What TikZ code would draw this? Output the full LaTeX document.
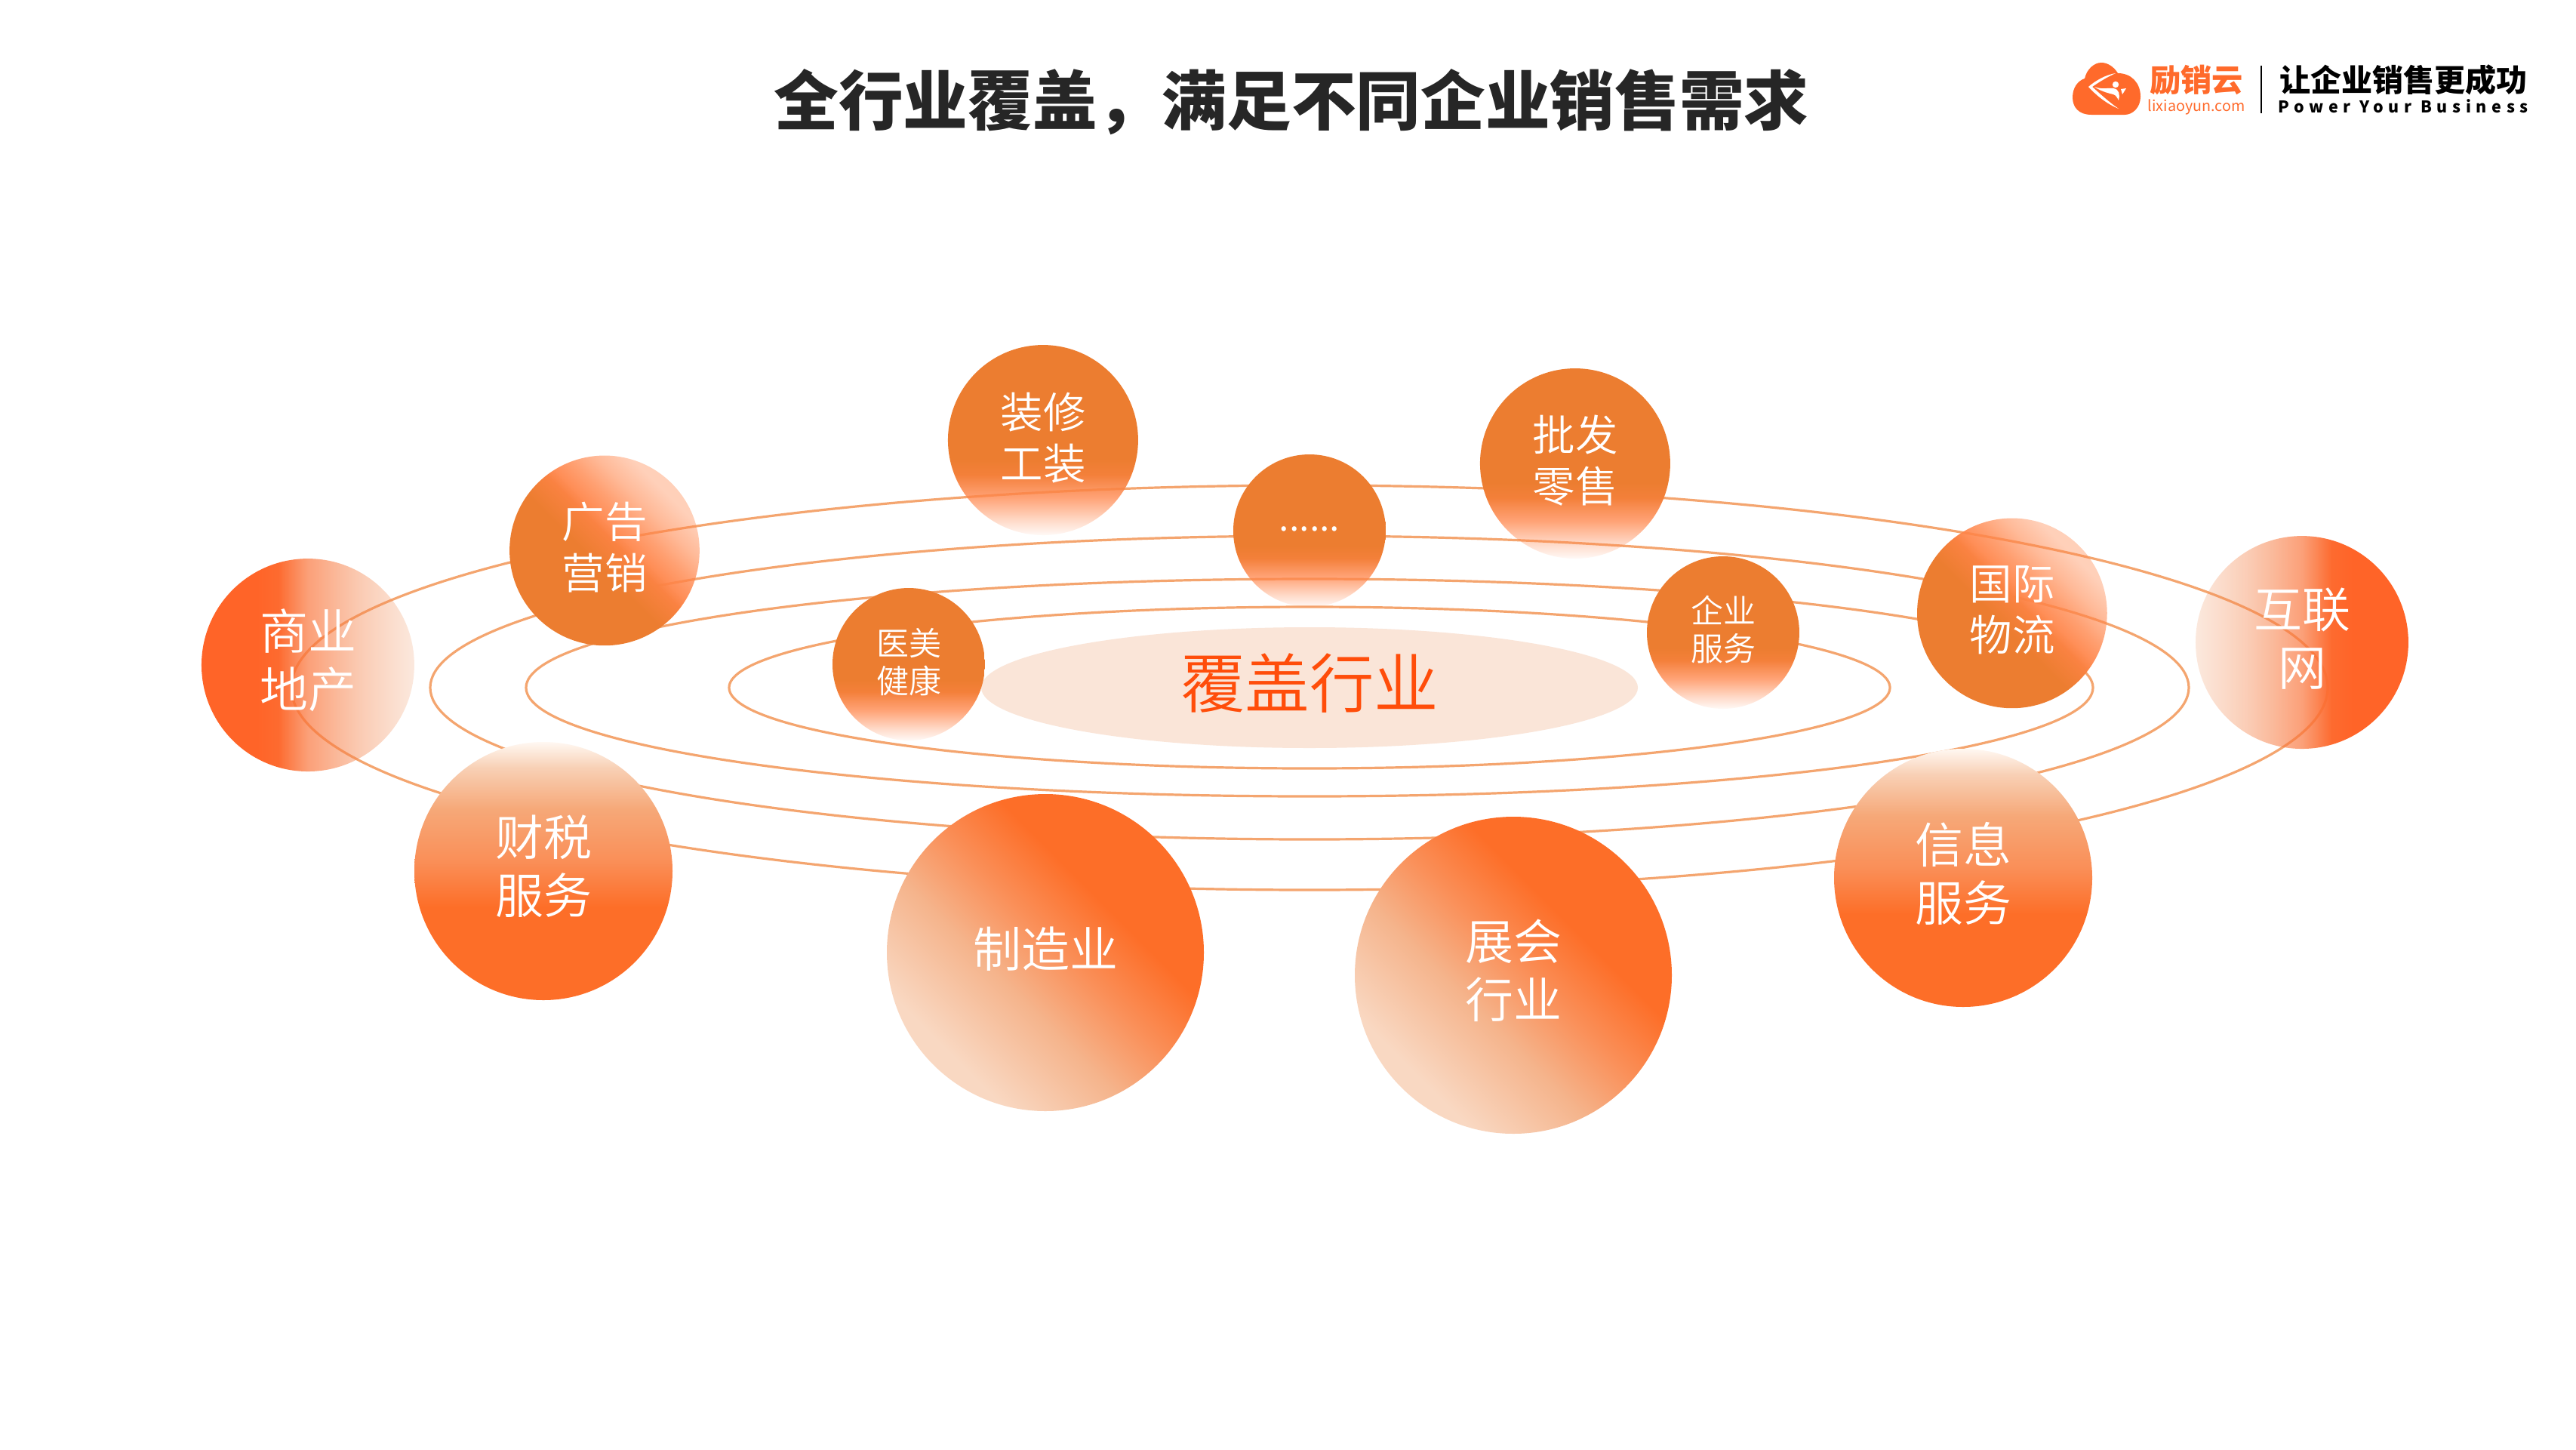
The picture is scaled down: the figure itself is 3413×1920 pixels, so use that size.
\documentclass[tikz,border=0pt]{standalone}
\usepackage{fontspec}
\setmainfont{Noto Sans CJK SC}
\newfontfamily\lightcjk{Noto Sans CJK SC}[UprightFont=* DemiLight]
\usetikzlibrary{fadings}
\definecolor{orbit}{HTML}{F4A56F}
\definecolor{brand}{HTML}{FF6A2B}
\definecolor{coretext}{HTML}{FF4D0A}
\definecolor{corefill}{HTML}{FAE5D8}
\definecolor{backA}{HTML}{EC7D30}
\definecolor{backB}{HTML}{FF8448}
\definecolor{sideA}{HTML}{FF6428}
\definecolor{sideB}{HTML}{F0935C}
\definecolor{frontA}{HTML}{FD6E28}
\definecolor{frontB}{HTML}{F6A878}
\definecolor{frontE}{HTML}{FA8F58}
\definecolor{frontF}{HTML}{F8D0B5}
\definecolor{frontC}{HTML}{FFF8F2}
\definecolor{frontD}{HTML}{F9D8C2}
\definecolor{frontG}{HTML}{F5B48C}
\pgfdeclareverticalshading{backcol}{100bp}{color(0bp)=(backB);color(35bp)=(backB);color(45bp)=(backA);color(100bp)=(backA)}
\pgfdeclareverticalshading{frontcol}{100bp}{color(0bp)=(frontA);color(43bp)=(frontA);color(52bp)=(frontE);color(62bp)=(frontB);color(70bp)=(frontF);color(75bp)=(frontC);color(100bp)=(frontC)}
\pgfdeclareverticalshading{diagcol}{100bp}{color(0bp)=(frontD);color(28bp)=(frontD);color(42bp)=(frontG);color(52bp)=(frontE);color(62bp)=(frontA);color(100bp)=(frontA)}
\pgfdeclarehorizontalshading{sidecol}{100bp}{color(0bp)=(sideA);color(38bp)=(sideA);color(75bp)=(sideB);color(100bp)=(sideB)}
\pgfdeclarehorizontalshading{sidecolr}{100bp}{color(0bp)=(sideB);color(25bp)=(sideB);color(62bp)=(sideA);color(100bp)=(sideA)}
\pgfdeclareverticalshading{cornercol}{100bp}{color(0bp)=(backA);color(46bp)=(backA);color(56bp)=(backB);color(100bp)=(backB)}
\pgfdeclareverticalshading{fadebotsh}{100bp}{rgb(0bp)=(.04,.04,.04);rgb(25bp)=(.04,.04,.04);rgb(29bp)=(.3,.3,.3);rgb(35bp)=(.75,.75,.75);rgb(41bp)=(1,1,1);rgb(100bp)=(1,1,1)}
\pgfdeclarehorizontalshading{faderightsh}{100bp}{rgb(0bp)=(1,1,1);rgb(43bp)=(1,1,1);rgb(50bp)=(.68,.68,.68);rgb(62bp)=(.42,.42,.42);rgb(75bp)=(.2,.2,.2);rgb(100bp)=(.2,.2,.2)}
\pgfdeclarehorizontalshading{fadeleftsh}{100bp}{rgb(0bp)=(.2,.2,.2);rgb(25bp)=(.2,.2,.2);rgb(38bp)=(.42,.42,.42);rgb(50bp)=(.68,.68,.68);rgb(57bp)=(1,1,1);rgb(100bp)=(1,1,1)}
\pgfdeclarehorizontalshading{fadecornersh}{100bp}{rgb(0bp)=(1,1,1);rgb(53bp)=(1,1,1);rgb(60bp)=(.78,.78,.78);rgb(66bp)=(.55,.55,.55);rgb(72bp)=(.38,.38,.38);rgb(100bp)=(.38,.38,.38)}
\pgfdeclarefading{fadebot}{\pgfuseshading{fadebotsh}}
\pgfdeclarefading{faderight}{\pgfuseshading{faderightsh}}
\pgfdeclarefading{fadeleft}{\pgfuseshading{fadeleftsh}}
\pgfdeclarefading{fadecorner}{\pgfuseshading{fadecornersh}}
\tikzset{
  x=1pt,y=-1pt,
  orbitline/.style={draw=orbit,line width=3.2pt},
  bubbleback/.style={shading=backcol,path fading=fadebot},
  bubbleleft/.style={shading=sidecol,path fading=faderight},
  bubbleright/.style={shading=sidecolr,path fading=fadeleft},
  bubblecorner/.style={shading=cornercol,shading angle=-45,path fading=fadecorner,fading angle=45},
  bubblefront/.style={shading=frontcol},
  bubblediag/.style={shading=diagcol,shading angle=-45},
  labelbase/.style={text=white,align=center,inner sep=0pt},
  labelL/.style={labelbase,font=\lightcjk\fontsize{64}{77}\selectfont},
  labelM/.style={labelbase,font=\lightcjk\fontsize{56.5}{67.5}\selectfont},
  labelS/.style={labelbase,font=\lightcjk\fontsize{43}{50}\selectfont},
}
\begin{document}
\begin{tikzpicture}
\useasboundingbox (0,0) rectangle (3413,1920);
\fill[white] (0,0) rectangle (3413,1920);
\node[text=black!85,inner sep=0pt,font=\bfseries\fontsize{85.7}{100}\selectfont] (title) at (1711,135) {全行业覆盖，满足不同企业销售需求};
% logo
\fill[brand] (2771,152) .. controls (2754,152) and (2746,142) .. (2746,129)
  .. controls (2746,116) and (2753,107) .. (2762,104)
  .. controls (2765,91) and (2775,83) .. (2784,83)
  .. controls (2793,83) and (2801,89) .. (2806,97)
  .. controls (2824,97) and (2836,110) .. (2836,128)
  .. controls (2836,142) and (2826,152) .. (2815,152) -- cycle;
\fill[white] (2803,97) .. controls (2790,99) and (2776,107) .. (2767,115)
  .. controls (2778,127) and (2792,138) .. (2807,144)
  .. controls (2795,136) and (2782,124) .. (2772,115)
  .. controls (2782,108) and (2792,102) .. (2803,97) -- cycle;
\fill[white] (2803,112) circle (4.2);
\fill[white] (2775,115) .. controls (2785,119) and (2793,116) .. (2800,117)
  .. controls (2808,118) and (2809,126) .. (2807,133)
  .. controls (2805,129) and (2803,126) .. (2800,125)
  .. controls (2791,123) and (2782,120) .. (2775,115) -- cycle;
\fill[white] (2810,118) -- (2817,117) -- (2812,125) -- cycle;
\node[text=brand,inner sep=0pt,font=\bfseries\fontsize{41.3}{45}\selectfont] (brandname) at (2910,106) {励销云};
\node[text=brand,inner sep=0pt,font=\fontsize{19.7}{22}\selectfont] (brandurl) at (2910,142) {lixiaoyun.com};
\draw[black,line width=2.4pt] (2996,87) -- (2996,150);
\node[text=black,inner sep=0pt,font=\bfseries\fontsize{41}{45}\selectfont] (slogan) at (3184,106) {让企业销售更成功};
\node[text=black,inner sep=0pt,font=\bfseries\fontsize{21.5}{24}\selectfont\addfontfeature{LetterSpace=31}] (sloganen) at (3184,141) {Power Your Business};
% core and orbits
\fill[corefill] (1735,911) ellipse [x radius=435,y radius=80];
\draw[orbitline] (1735,911) ellipse [x radius=769,y radius=107];
\draw[orbitline] (1735,911) ellipse [x radius=1038,y radius=144];
\draw[orbitline] (1735,911) ellipse [x radius=1165,y radius=201];
\draw[orbitline] (1735,911) ellipse [x radius=1349,y radius=268];
\node[text=coretext,inner sep=0pt,font=\lightcjk\fontsize{85.5}{90}\selectfont] (core) at (1735,905) {覆盖行业};
% back row
\shade[bubbleleft] (408,881) circle (141);
\shade[bubbleright] (3050,851) circle (141);
\shade[bubblecorner] (801,729) circle (126);
\shade[bubblecorner] (2666,812) circle (126);
\shade[bubbleback] (1382,583) circle (126);
\shade[bubbleback] (2087,614) circle (126);
\shade[bubbleback] (1735,703) circle (101);
\shade[bubbleback] (1204,880) circle (101);
\shade[bubbleback] (2283,838) circle (101);
% front row
\shade[bubblefront] (720,1154) circle (171);
\shade[bubblefront] (2601,1163) circle (171);
\shade[bubblediag] (1385,1262) circle (210);
\shade[bubblediag] (2005,1292) circle (210);
% labels
\node[labelL] (n1) at (408,875) {商业\\地产};
\node[labelM] (n2) at (801,725) {广告\\营销};
\node[labelM] (n3) at (1382,580) {装修\\工装};
\node[labelbase,font=\lightcjk\fontsize{50}{50}\selectfont] (n4) at (1735,701) {......};
\node[labelM] (n5) at (2087,610) {批发\\零售};
\node[labelS] (n6) at (1204,877) {医美\\健康};
\node[labelS] (n7) at (2283,834) {企业\\服务};
\node[labelM] (n8) at (2666,808) {国际\\物流};
\node[labelL] (n9) at (3050,846) {互联\\网};
\node[labelL] (n10) at (720,1148) {财税\\服务};
\node[labelL] (n11) at (1385,1257) {制造业};
\node[labelL] (n12) at (2005,1286) {展会\\行业};
\node[labelL] (n13) at (2601,1157) {信息\\服务};
\end{tikzpicture}
\end{document}
